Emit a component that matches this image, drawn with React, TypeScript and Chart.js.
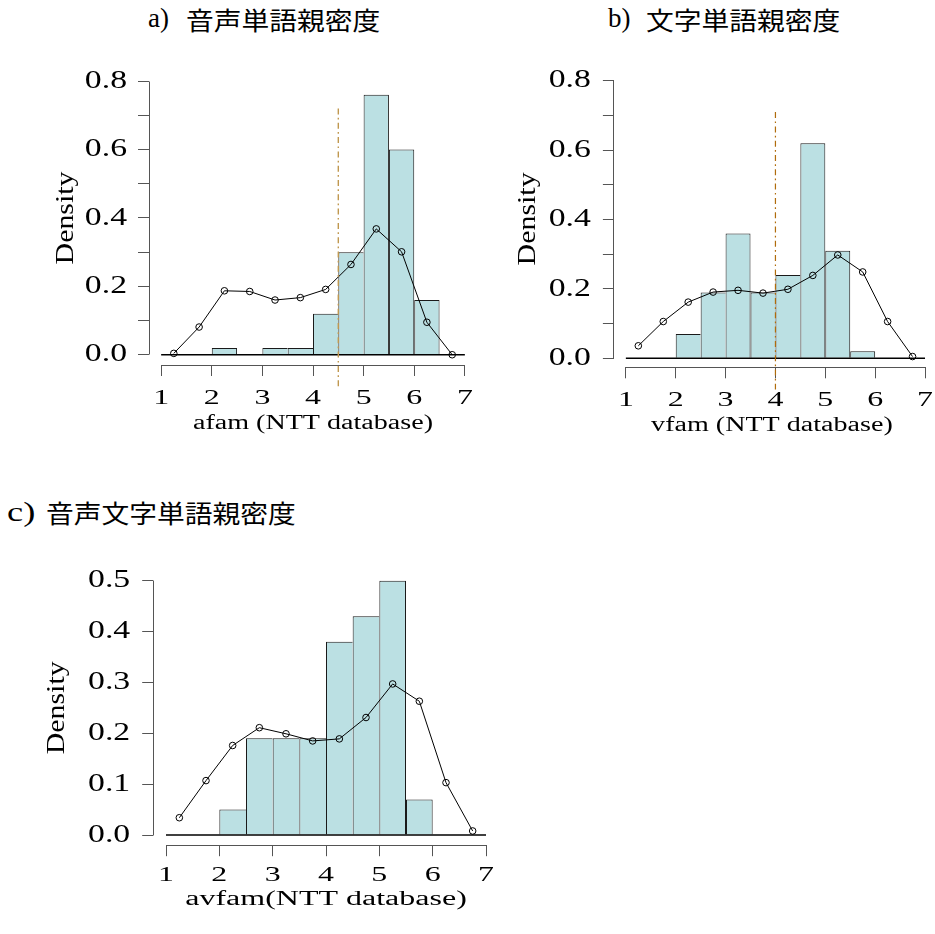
import React, { useEffect, useRef } from "react";
import { Chart, registerables } from "chart.js";
Chart.register(...registerables);

// ---------- data ----------
const binMids = [1.25, 1.75, 2.25, 2.75, 3.25, 3.75, 4.25, 4.75, 5.25, 5.75, 6.25, 6.75];

const afamHist = [0, 0, 0.02, 0, 0.02, 0.02, 0.12, 0.3, 0.76, 0.6, 0.16, 0];
const afamDens = [0.004, 0.081, 0.187, 0.185, 0.16, 0.167, 0.191, 0.264, 0.368, 0.301, 0.095, 0.0];
const afamCut = 4.5;
const afamCutRange = [-0.097, 0.72];

const vfamHist = [0, 0, 0.07, 0.19, 0.36, 0.19, 0.24, 0.62, 0.31, 0.02, 0, 0];
const vfamDens = [0.036, 0.106, 0.162, 0.191, 0.196, 0.188, 0.199, 0.239, 0.298, 0.249, 0.106, 0.005];
const vfamCut = 4.0;
const vfamCutRange = [-0.09, 0.71];

const avfamHist = [0, 0, 0.05, 0.19, 0.19, 0.19, 0.38, 0.43, 0.5, 0.07, 0, 0];
const avfamDens = [0.034, 0.107, 0.176, 0.211, 0.199, 0.185, 0.189, 0.231, 0.297, 0.263, 0.103, 0.008];

const xTicks = [1, 2, 3, 4, 5, 6, 7];
const yTicksAB = [0, 0.1, 0.2, 0.3, 0.4, 0.5, 0.6, 0.7, 0.8];
const yLabelsAB = [0, 0.2, 0.4, 0.6, 0.8];
const yTicksC = [0, 0.1, 0.2, 0.3, 0.4, 0.5];
const yLabelsC = [0, 0.1, 0.2, 0.3, 0.4, 0.5];

const titleA = ["a)", "音声単語親密度"];
const titleB = ["b)", "文字単語親密度"];
const titleC = ["c)", "音声文字単語親密度"];
const xTitleA = "afam (NTT database)";
const xTitleB = "vfam (NTT database)";
const xTitleC = "avfam(NTT database)";
const yTitle = "Density";

// ---------- style ----------
const SERIF = '"Liberation Serif", "Times New Roman", serif';
const CJK = '"Noto Sans CJK JP", "Noto Sans CJK SC", sans-serif';
const BAR_FILL = "#bbe0e3";
const BAR_EDGE = "#1a1a1a";
const AXIS_COLOR = "#555";

type PanelCfg = {
  canvas: { x: number; y: number; w: number; h: number };
  area: { l: number; t: number; r: number; b: number };
  xRange: [number, number];
  yRange: [number, number];
  hist: number[];
  dens: number[];
  cut?: number;
  cutRange?: number[];
  cutColor?: string;
  cutWidth?: number;
  yTicks: number[];
  yLabels: number[];
  xTitle: string;
  yTitleCenter: number; // px from canvas left
  xTitleCenter: number; // px from canvas top
  xTickPad: number;
  yTickPad: number;
  xTitleSize: number;
  stretch: Record<string, number>;
};

const Y_TICK_SIZE = 25;
const X_TICK_SIZE = 22;
const Y_TITLE_SIZE = 26;

const panels: PanelCfg[] = [
  {
    canvas: { x: 0, y: 40, w: 490, h: 420 },
    area: { l: 149, t: 70.9, r: 477, b: 365 },
    xRange: [0.76, 7.24],
    yRange: [-0.03, 0.83],
    hist: afamHist,
    dens: afamDens,
    cut: afamCut,
    cutRange: afamCutRange,
    cutColor: "#c09850",
    cutWidth: 1.4,
    yTicks: yTicksAB,
    yLabels: yLabelsAB,
    xTitle: xTitleA,
    yTitleCenter: 66,
    xTitleCenter: 384,
    xTickPad: 8.8,
    yTickPad: 11,
    xTitleSize: 20.5,
    stretch: { "25": 1.35, "22": 1.45, "26": 1.15, "20.5": 1.37 },
  },
  {
    canvas: { x: 490, y: 40, w: 445, h: 420 },
    area: { l: 613.9, t: 70.5, r: 934.1, b: 367.3 },
    xRange: [0.76, 7.1],
    yRange: [-0.026, 0.83],
    hist: vfamHist,
    dens: vfamDens,
    cut: vfamCut,
    cutRange: vfamCutRange,
    cutColor: "#b06c0c",
    cutWidth: 1.2,
    yTicks: yTicksAB,
    yLabels: yLabelsAB,
    xTitle: xTitleB,
    yTitleCenter: 38,
    xTitleCenter: 386,
    xTickPad: 8.8,
    yTickPad: 12,
    xTitleSize: 20.5,
    stretch: { "25": 1.35, "22": 1.45, "26": 1.15, "20.5": 1.37 },
  },
  {
    canvas: { x: 0, y: 530, w: 510, h: 400 },
    area: { l: 153.2, t: 570.5, r: 498.8, b: 845.2 },
    xRange: [0.76, 7.24],
    yRange: [-0.02, 0.52],
    hist: avfamHist,
    dens: avfamDens,
    yTicks: yTicksC,
    yLabels: yLabelsC,
    xTitle: xTitleC,
    yTitleCenter: 57,
    xTitleCenter: 370,
    xTickPad: 5.6,
    yTickPad: 12,
    xTitleSize: 20,
    stretch: { "25": 1.35, "22": 1.45, "26": 1.15, "20": 1.6 },
  },
];

function makeStretchPlugin(map: Record<string, number>) {
  return {
    id: "textStretch",
    beforeDraw(chart: any) {
      const ctx: any = chart.ctx;
      if (ctx.__stretchPatched) return;
      const orig = ctx.fillText;
      ctx.fillText = function (text: string, x: number, y: number) {
        const m = /([\d.]+)px/.exec(this.font);
        const sx = (m && map[String(parseFloat(m[1]))]) || 1;
        if (sx === 1) return orig.call(this, text, x, y);
        this.save();
        this.translate(x, y);
        this.scale(sx, 1);
        orig.call(this, text, 0, 0);
        this.restore();
      };
      ctx.__stretchPatched = true;
    },
  };
}

function makeAxisLinePlugin(xt: number[], yt: number[]) {
  return {
    id: "axisLines",
    beforeDatasetsDraw(chart: any) {
      const { ctx, chartArea: ca, scales } = chart;
      const al = (p: number) => Math.round(p - 0.5) + 0.5;
      ctx.save();
      ctx.strokeStyle = AXIS_COLOR;
      ctx.lineWidth = 1;
      ctx.beginPath();
      const xl = al(ca.left);
      const yb = al(ca.bottom);
      ctx.moveTo(xl, al(scales.y.getPixelForValue(yt[0])));
      ctx.lineTo(xl, al(scales.y.getPixelForValue(yt[yt.length - 1])));
      ctx.moveTo(al(scales.x.getPixelForValue(xt[0])), yb);
      ctx.lineTo(al(scales.x.getPixelForValue(xt[xt.length - 1])), yb);
      ctx.stroke();
      ctx.restore();
    },
  };
}

function Panel({ cfg }: { cfg: PanelCfg }) {
  const ref = useRef<HTMLCanvasElement>(null);
  useEffect(() => {
    const c = cfg;
    const yAxisW = c.area.l - c.canvas.x;
    const xAxisH = c.canvas.y + c.canvas.h - c.area.b;
    const padTop = c.area.t - c.canvas.y;
    const padRight = c.canvas.x + c.canvas.w - c.area.r;
    const hist = c.hist;

    const datasets: any[] = [
      {
        type: "bar",
        data: binMids.map((m, i) => ({ x: m, y: hist[i] })),
        backgroundColor: BAR_FILL,
        borderColor: BAR_EDGE,
        borderWidth: (ctx: any) => {
          const i = ctx.dataIndex;
          const v = hist[i];
          const next = i + 1 < hist.length ? hist[i + 1] : 0;
          return { top: 1, left: 1, bottom: 0, right: next < v ? 1 : 0 };
        },
        borderSkipped: false,
        barPercentage: 1,
        categoryPercentage: 1,
        inflateAmount: 0,
        order: 3,
      },
      {
        type: "line",
        data: [
          { x: xTicks[0], y: 0 },
          { x: xTicks[xTicks.length - 1], y: 0 },
        ],
        borderColor: "#000",
        borderWidth: 1.6,
        pointRadius: 0,
        order: 2,
      },
      {
        type: "line",
        data: binMids.map((m, i) => ({ x: m, y: c.dens[i] })),
        borderColor: "#000",
        borderWidth: 1,
        pointRadius: 3.3,
        pointBorderWidth: 1,
        pointBorderColor: "#000",
        pointBackgroundColor: "rgba(0,0,0,0)",
        tension: 0,
        clip: false,
        order: 1,
      },
    ];
    if (c.cut !== undefined && c.cutRange) {
      datasets.push({
        type: "line",
        data: [
          { x: c.cut, y: c.cutRange[1] },
          { x: c.cut, y: c.cutRange[0] },
        ],
        borderColor: c.cutColor,
        borderWidth: c.cutWidth,
        borderDash: [6, 3.3, 1.7, 3.3],
        pointRadius: 0,
        clip: false,
        order: 0,
      });
    }

    const tickGrid = {
      display: true,
      drawOnChartArea: false,
      drawTicks: true,
      tickLength: 11,
      color: AXIS_COLOR,
      lineWidth: 1,
      offset: false,
    };

    const chart = new Chart(ref.current as HTMLCanvasElement, {
      type: "bar",
      data: { datasets },
      options: {
        responsive: false,
        animation: false,
        events: [],
        layout: { padding: { top: padTop, right: padRight, bottom: 0, left: 0 } },
        plugins: {
          legend: { display: false },
          tooltip: { enabled: false },
          title: { display: false },
        },
        scales: {
          x: {
            type: "linear",
            min: c.xRange[0],
            max: c.xRange[1],
            offset: false,
            afterBuildTicks: (s: any) => {
              s.ticks = xTicks.map((v) => ({ value: v }));
            },
            afterFit: (s: any) => {
              s.height = xAxisH;
              s.paddingLeft = 0;
              s.paddingRight = 0;
              s.paddingTop = 0;
              s.paddingBottom = 0;
            },
            grid: tickGrid,
            border: { display: false },
            ticks: {
              autoSkip: false,
              maxRotation: 0,
              minRotation: 0,
              padding: c.xTickPad,
              color: "#000",
              font: { family: SERIF, size: X_TICK_SIZE },
              callback: (v: any) => String(v),
            },
            title: {
              display: true,
              text: c.xTitle,
              color: "#000",
              font: { family: SERIF, size: c.xTitleSize },
              padding: {
                top: 0,
                bottom: c.canvas.h - c.xTitleCenter - (c.xTitleSize * 1.2) / 2,
              },
            },
          },
          y: {
            type: "linear",
            min: c.yRange[0],
            max: c.yRange[1],
            afterBuildTicks: (s: any) => {
              s.ticks = c.yTicks.map((v) => ({ value: v }));
            },
            afterFit: (s: any) => {
              s.width = yAxisW;
              s.paddingLeft = 0;
              s.paddingRight = 0;
              s.paddingTop = 0;
              s.paddingBottom = 0;
            },
            grid: tickGrid,
            border: { display: false },
            ticks: {
              autoSkip: false,
              padding: c.yTickPad,
              color: "#000",
              font: { family: SERIF, size: Y_TICK_SIZE },
              callback: (v: any) => {
                const n = Number(v);
                return c.yLabels.some((l) => Math.abs(l - n) < 1e-9) ? n.toFixed(1) : "";
              },
            },
            title: {
              display: true,
              text: yTitle,
              color: "#000",
              font: { family: SERIF, size: Y_TITLE_SIZE },
              padding: { top: c.yTitleCenter - (Y_TITLE_SIZE * 1.2) / 2, bottom: 0 },
            },
          },
        },
      } as any,
      plugins: [makeStretchPlugin(c.stretch), makeAxisLinePlugin(xTicks, c.yTicks)],
    });
    return () => chart.destroy();
  }, [cfg]);

  return (
    <canvas
      ref={ref}
      width={cfg.canvas.w}
      height={cfg.canvas.h}
      style={{
        position: "absolute",
        left: cfg.canvas.x,
        top: cfg.canvas.y,
        width: cfg.canvas.w,
        height: cfg.canvas.h,
      }}
    />
  );
}

type TitlePart = { text: string; left: number; center: number; size: number; sx: number; font: string; k: number };

function TitleText({ p }: { p: TitlePart }) {
  return (
    <span
      style={{
        position: "absolute",
        left: p.left,
        top: p.center - p.k * p.size,
        fontFamily: p.font,
        fontSize: p.size,
        lineHeight: 1,
        whiteSpace: "nowrap",
        color: "#000",
        transform: `scaleX(${p.sx})`,
        transformOrigin: "0 50%",
      }}
    >
      {p.text}
    </span>
  );
}

const titleParts: TitlePart[] = [
  { text: titleA[0], left: 148, center: 21, size: 27, sx: 1.0, font: SERIF, k: 0.59 },
  { text: titleA[1], left: 186, center: 21, size: 25, sx: 1.11, font: CJK, k: 0.556 },
  { text: titleB[0], left: 608, center: 21, size: 27, sx: 1.0, font: SERIF, k: 0.59 },
  { text: titleB[1], left: 646, center: 21, size: 25, sx: 1.11, font: CJK, k: 0.556 },
  { text: titleC[0], left: 7, center: 515, size: 28, sx: 1.3, font: SERIF, k: 0.59 },
  { text: titleC[1], left: 46, center: 514, size: 25, sx: 1.11, font: CJK, k: 0.556 },
];

export default function App() {
  return (
    <div
      style={{
        position: "absolute",
        left: 0,
        top: 0,
        width: 935,
        height: 934,
        overflow: "hidden",
        background: "#fff",
      }}
    >
      {titleParts.map((p, i) => (
        <TitleText key={i} p={p} />
      ))}
      {panels.map((cfg, i) => (
        <Panel key={i} cfg={cfg} />
      ))}
    </div>
  );
}
